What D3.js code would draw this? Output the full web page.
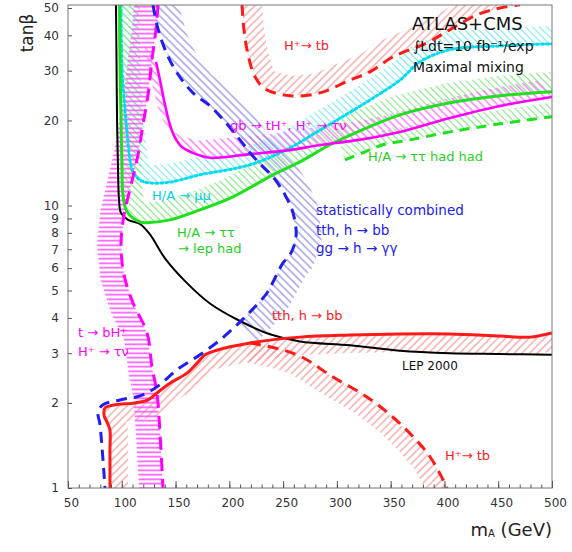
<!DOCTYPE html>
<html><head><meta charset="utf-8">
<script src="https://cdn.jsdelivr.net/npm/d3@7"></script>
<style>body{margin:0;background:#fff;} text{font-family:"DejaVu Sans",sans-serif;}</style>
</head><body><svg id="c" width="572" height="552"></svg>
<script>
// ---------- data ----------
const xTickValues = [50,100,150,200,250,300,350,400,450,500];
const yTickValues = [1,2,3,4,5,6,7,8,9,10,20,30,40,50];

const lepMA = [94.6,95.1,95.6,96.5,97.4,99.3,105.8,116.9,126.2,140.2,158.8,182,209.9,237.8,265.7,312.2,358.7,405.2,451.7,500];
const lepTB = [51.3,32.8,20.1,13.4,10.5,9.4,8.9,8.6,7.9,6.5,5.4,4.5,3.9,3.5,3.3,3.2,3.06,3.0,2.98,2.96];

const ttLepMA = [97.9,98.3,99.3,100.2,101.1,104.9,116.9,126.2,144.8,172.7,203.4,240.6,265.7,293.6,321.5,358.7,405.2,451.7,500];
const ttLepTB = [51.3,32.8,20.1,13.4,10.9,9.5,8.75,8.7,8.89,9.65,10.73,12.84,14.27,16.4,18.37,20.93,23.09,24.44,25.25];

const mumuMA = [99.3,100.2,103,104.9,107.6,110.4,116.9,126.2,144.8,172.7,219.2,256.4,281.5,328,358.7,377.3,405.2,451.7,500];
const mumuTB = [51.3,30.2,21.8,18.07,14.5,13.15,12.3,12.02,12.1,12.84,13.93,15.99,18.22,23.27,27.8,32.25,35.6,36.7,37.35];

const gbMA = [131.8,135.5,140.2,144.8,149.5,156,165.3,182,219.2,256.4,281.5,321.5,358.7,405.2,451.7,500];
const gbTB = [32.25,27.8,22.7,19.3,17.4,16.1,15.4,14.75,15.2,15.7,16.3,17.1,18.2,20.4,22.5,24.2];

const tbhMA = [133.7,131.8,128.1,124.4,119.7,115.1,108.6,102.1,99.3,102.1,110.4,123.5,128.1,132.7,135.5,138.3];
const tbhTB = [51.3,41.9,32.8,24.6,19.3,15.1,11.8,9.26,7.25,5.68,4.52,3.54,2.68,2.17,1.57,1];

const combMA = [129,132.7,140.2,151.3,166.2,182,196,209.9,219.2,230.4,240.6,251.8,259.2,262,256.4,249.9,242.5,235,221.1,207.1,191.3,172.7,151.3,132.7,116.9,98.3,82.5,77.9,79.8,84.4];
const combTB = [51.3,43.6,35.6,29.5,25.04,22.53,19.77,17.07,15.36,13.81,12.63,10.9,9.42,7.74,6.69,6.26,5.54,4.9,4.27,3.78,3.34,2.96,2.62,2.28,2.12,2.05,1.97,1.86,1.67,1];

const tthMA = [89,89,89,86.3,83.5,84.4,93.7,112.3,124.4,132.7,144.8,160.6,170.9,177.4,186.7,219.2,265.7,312.2,358.7,405.2,451.7,479.5,500];
const tthTB = [1,1.36,1.6,1.71,1.81,1.92,1.97,2.0,2.05,2.17,2.35,2.55,2.79,2.96,3.06,3.26,3.42,3.48,3.51,3.51,3.45,3.42,3.54];

const htbHighMA = [211.8,213.6,217.4,223.9,233.2,256.4,284.3,312.2,330.8,352.2,383.8,405.2,430.3,451.7,470.2];
const htbHighTB = [51.3,41.9,34.15,28.54,25.88,24.44,25.04,27.8,29.72,33.59,37.65,41.9,47.3,50,51.3];

const htbLowMA = [219.2,242.5,265.7,296.4,328,352.2,370.8,386.6,398.7,402.4];
const htbLowTB = [3.26,3.13,2.93,2.47,2.10,1.78,1.52,1.29,1.07,1];

const ttHadMA = [307.5,326.1,342.9,368,405.2,451.7,500];
const ttHadTB = [14.5,15.48,16.4,17.07,18.22,19.45,20.6];

// ---------- chart ----------
const svg = d3.select('#c');
const L=68, R=552, T=5, B=488;
const x = d3.scaleLinear().domain([50,500]).range([L,R]);
const y = d3.scaleLog().domain([1,50]).range([B,8]);

const defs = svg.append('defs');
defs.append('clipPath').attr('id','clip').append('rect').attr('x',L).attr('y',T).attr('width',R-L).attr('height',B-T);
function pat(id,color,angle,sp,sw){
  const p=defs.append('pattern').attr('id',id).attr('patternUnits','userSpaceOnUse')
    .attr('width',sp).attr('height',sp).attr('patternTransform',`rotate(${angle})`);
  p.append('line').attr('x1',sp/2).attr('y1',0).attr('x2',sp/2).attr('y2',sp).attr('stroke',color).attr('stroke-width',sw||1.2);
}
pat('hRed','#f29a9a',45,5.5);
pat('hBlue','#8c8ce6',-45,5.5);
pat('hMag','#ff60ff',-45,5.5);
pat('hMagH','#ff50ff',90,4.5,1.6);
pat('hGreen','#8ae88a',-45,5);
pat('hCyan','#7eeaf0',-45,5);

const plot = svg.append('g').attr('clip-path','url(#clip)');
const pts = (ma,tb)=>ma.map((m,i)=>[x(m),y(tb[i])]);
function band(p,w,side){
  const n=p.length, off=[];
  for(let i=0;i<n;i++){
    const a=p[Math.max(0,i-1)], b=p[Math.min(n-1,i+1)];
    const dx=b[0]-a[0], dy=b[1]-a[1], l=Math.hypot(dx,dy)||1;
    off.push([p[i][0]+side*w*(-dy/l), p[i][1]+side*w*(dx/l)]);
  }
  return p.concat(off.reverse());
}
function shiftBand(p,dx,dy){ return p.concat(p.map(q=>[q[0]+dx,q[1]+dy]).reverse()); }
const lineC = d3.line().curve(d3.curveCatmullRom.alpha(0.5));
function fillPoly(poly,fill){
  plot.append('path').attr('d', d3.line()(poly)+'Z').attr('fill',`url(#${fill})`).attr('stroke','none');
}
function hatch(p,w,side,fill){ fillPoly(band(p,w,side),fill); }
function curve(p,color,width,dash){
  const s=plot.append('path').attr('d',lineC(p)).attr('fill','none').attr('stroke',color).attr('stroke-width',width).attr('stroke-linejoin','round');
  if(dash) s.attr('stroke-dasharray',dash);
  return s;
}

const pLep=pts(lepMA,lepTB), pTtLep=pts(ttLepMA,ttLepTB), pMumu=pts(mumuMA,mumuTB), pGb=pts(gbMA,gbTB),
  pTbh=pts(tbhMA,tbhTB), pComb=pts(combMA,combTB), pTth=pts(tthMA,tthTB), pHigh=pts(htbHighMA,htbHighTB),
  pLow=pts(htbLowMA,htbLowTB), pHad=pts(ttHadMA,ttHadTB);

hatch(pHigh,20,-1,'hRed');
hatch(pLow,20,1,'hRed');
hatch(pTth,18,1,'hRed');
hatch(pMumu,18,-1,'hCyan');
hatch(pTtLep,20,-1,'hGreen');
hatch(pHad,14,-1,'hGreen');
fillPoly(shiftBand(pGb,-12,-17),'hMag');
hatch(pTbh,24,1,'hMagH');
hatch(pComb.slice(0,20),26,-1,'hBlue');

curve(pLep,'#000',2);
curve(pHigh,'#ff1a1a',3,'11,7');
curve(pLow,'#ff1a1a',3,'11,7');
curve(pTth,'#ff1a1a',3);
curve(pMumu,'#00dcee',3,'2,3').attr('stroke-linecap','round');
curve(pTtLep,'#1fe01f',3);
curve(pHad,'#1fe01f',3,'10,7');
curve(pGb,'#ff00ff',2.6);
curve(pTbh,'#ff00ff',3,'13,8');
curve(pComb,'#2020ee',3,'11,7');

// frame
svg.append('rect').attr('x',L).attr('y',T).attr('width',R-L).attr('height',B-T).attr('fill','none').attr('stroke','#777').attr('stroke-width',1);

// axes
const xa = svg.append('g').attr('transform',`translate(0,${B})`)
  .call(d3.axisBottom(x).tickValues(xTickValues).tickSize(-7).tickPadding(10).tickFormat(d3.format('d')));
const xm = svg.append('g').attr('transform',`translate(0,${B})`)
  .call(d3.axisBottom(x).tickValues(d3.range(50,501,10)).tickSize(-3.5).tickFormat(''));
const ya = svg.append('g').attr('transform',`translate(${L},0)`)
  .call(d3.axisLeft(y).tickValues(yTickValues).tickSize(-4).tickPadding(9).tickFormat(d3.format('d')));
[xa,xm,ya].forEach(g=>{g.select('.domain').remove(); g.selectAll('line').attr('stroke','#555');
  g.selectAll('text').attr('font-size',12).attr('fill','#333').attr('font-family','DejaVu Sans');});
xa.selectAll('text').attr('dx',3);

// axis titles
svg.append('text').attr('transform','translate(33,33) rotate(-90)').attr('text-anchor','middle')
  .attr('font-size',17).attr('fill','#222').text('tanβ');
const xt = svg.append('text').attr('x',552).attr('y',536).attr('text-anchor','end').attr('font-size',18).attr('fill','#222');
xt.append('tspan').text('m');
xt.append('tspan').attr('font-size',10).attr('dy',1).text('A');
xt.append('tspan').attr('dy',-1).text(' (GeV)');

// labels
function label(tx,px,py,color,size){
  return svg.append('text').attr('x',px).attr('y',py).attr('fill',color).attr('font-size',size||13).text(tx);
}
label('ATLAS+CMS',412,30,'#111',18);
label('∫Ldt=10 fb⁻¹/exp',413,51,'#111',14);
label('Maximal mixing',413,72,'#111',14);
label('H⁺→ tb',284,50,'#ff1a1a',13);
label('gb → tH⁺, H⁺ → τν',230,130,'#ff00ff',13);
label('H/A → ττ had had',368,161,'#1fd01f',13);
label('H/A → μμ',152,200,'#00d0e8',13);
label('H/A → ττ',177,237,'#1fd01f',13);
label('→ lep had',178,253,'#1fd01f',13);
label('statistically combined',316,215,'#2020ee',13.5);
label('tth, h → bb',316,235,'#2020ee',13.5);
label('gg → h → γγ',316,253,'#2020ee',13.5);
label('tth, h → bb',272,320,'#ff1a1a',13);
label('LEP 2000',402,370,'#111',12);
label('H⁺→ tb',445,460,'#ff1a1a',13);
label('t → bH⁺',78,337,'#ff00ff',13);
label('H⁺ → τν',78,356,'#ff00ff',13);
</script></body></html>
